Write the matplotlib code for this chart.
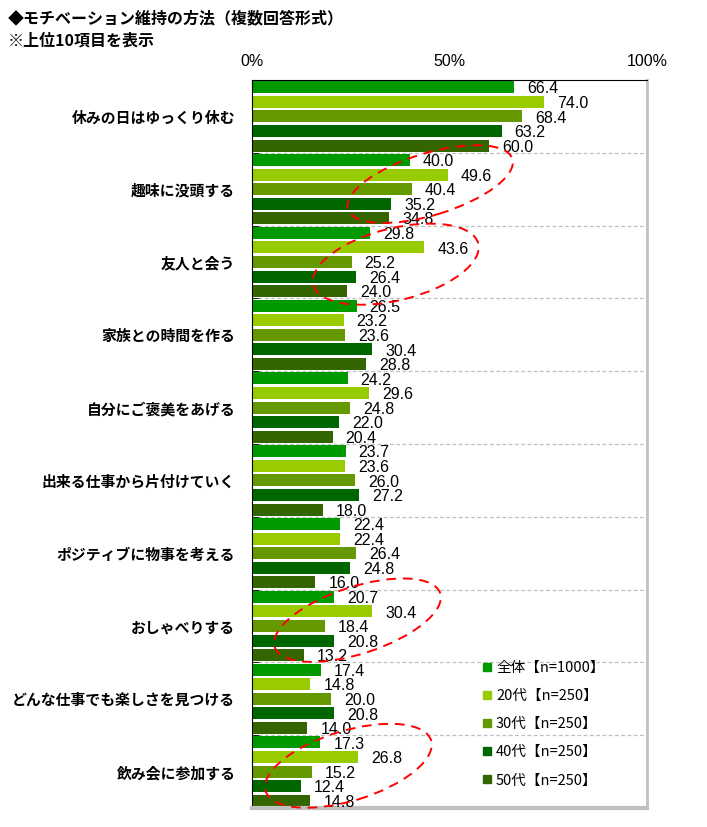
import matplotlib
matplotlib.use("Agg")
import matplotlib.pyplot as plt
import matplotlib.transforms as mtransforms
from matplotlib.patches import Ellipse
from matplotlib.lines import Line2D

plt.rcParams['font.family'] = ['Noto Sans CJK JP', 'DejaVu Sans']

CATEGORIES = ["休みの日はゆっくり休む", "趣味に没頭する", "友人と会う", "家族との時間を作る",
              "自分にご褒美をあげる", "出来る仕事から片付けていく", "ポジティブに物事を考える",
              "おしゃべりする", "どんな仕事でも楽しさを見つける", "飲み会に参加する"]
SERIES = ["全体【n=1000】", "20代【n=250】", "30代【n=250】", "40代【n=250】", "50代【n=250】"]
ALL_AGES = [66.4, 40.0, 29.8, 26.5, 24.2, 23.7, 22.4, 20.7, 17.4, 17.3]
AGE_20S = [74.0, 49.6, 43.6, 23.2, 29.6, 23.6, 22.4, 30.4, 14.8, 26.8]
AGE_30S = [68.4, 40.4, 25.2, 23.6, 24.8, 26.0, 26.4, 18.4, 20.0, 15.2]
AGE_40S = [63.2, 35.2, 26.4, 30.4, 22.0, 27.2, 24.8, 20.8, 20.8, 12.4]
AGE_50S = [60.0, 34.8, 24.0, 28.8, 20.4, 18.0, 16.0, 13.2, 14.0, 14.8]
COLORS = ["#009900", "#99cc00", "#669900", "#006600", "#336600"]
X_TICKS = [0, 50, 100]
X_TICK_LABELS = ["0%", "50%", "100%"]

# red dashed circles: (category index, x value, width px, height px, angle)
HIGHLIGHTS = [(0.93, 45.1, 172, 62, 17),
              (2.03, 36.4, 170, 72, 14),
              (6.92, 26.7, 174, 67, 18),
              (8.92, 24.4, 173, 70, 17)]

values = [ALL_AGES, AGE_20S, AGE_30S, AGE_40S, AGE_50S]

fig = plt.figure(figsize=(7.07, 8.27), dpi=100)
ax = fig.add_axes([252 / 707, 1 - 808 / 827, 395 / 707, 728 / 827])

n = len(CATEGORIES)
slot = 1.0 / len(SERIES)
for k, (vals, col) in enumerate(zip(values, COLORS)):
    ys = [i - 0.5 + (k + 0.5) * slot for i in range(n)]
    ax.barh(ys, vals, height=0.165, color=col, zorder=2)
    for y, v in zip(ys, vals):
        ax.annotate("%.1f" % v, (v, y), xytext=(9.4, -1.2), textcoords="offset points",
                    ha="left", va="center", fontsize=11.5, family=["Liberation Sans"],
                    zorder=4)

ax.set_xlim(0, 100)
ax.set_ylim(n - 0.5, -0.5)

# boundaries between categories
for b in range(1, n):
    ax.axhline(b - 0.5, color="#bfbfbf", lw=0.9, ls=(0, (3, 2)), zorder=1)

ax.set_yticks(range(n))
ax.set_yticklabels(CATEGORIES, fontsize=10.7, fontweight="bold")
ax.set_yticks([b - 0.5 for b in range(1, n)], minor=True)
ax.tick_params(axis="y", which="major", length=0, pad=12)
ax.tick_params(axis="y", which="minor", length=5, direction="in", color="black")

ax.xaxis.tick_top()
ax.set_xticks(X_TICKS)
ax.set_xticklabels(X_TICK_LABELS, fontsize=11.5, family=["Liberation Sans"])
ax.tick_params(axis="x", length=5, direction="in", pad=8, color="black")

ax.spines["left"].set_color("black")
ax.spines["top"].set_color("black")
ax.spines["right"].set_color("#c0c0c0")
ax.spines["right"].set_linewidth(2)
ax.spines["bottom"].set_color("#c0c0c0")
ax.spines["bottom"].set_linewidth(3)

for cy, cx, w, h, ang in HIGHLIGHTS:
    tr = fig.dpi_scale_trans + mtransforms.ScaledTranslation(cx, cy, ax.transData)
    e = Ellipse((0, 0), w / 100, h / 100, angle=ang, transform=tr, fill=False,
                ec="#ff0000", lw=1.4, ls=(0, (5, 3.5)), zorder=5, clip_on=False)
    ax.add_patch(e)

handles = [Line2D([], [], ls="none", marker="s", markersize=5.5, color=c) for c in COLORS]
ax.legend(handles, SERIES, loc="upper left", bbox_to_anchor=(0.57, 0.21), frameon=False,
          fontsize=10.5, handlelength=0.5, handletextpad=0.4, labelspacing=0.97,
          borderaxespad=0)

fig.text(8 / 707, 1 - 18 / 827, "◆モチベーション維持の方法（複数回答形式）", fontsize=11.5,
         fontweight="bold", va="center", ha="left")
fig.text(8 / 707, 1 - 41 / 827, "※上位10項目を表示", fontsize=11.5,
         fontweight="bold", va="center", ha="left")

fig.savefig("out.png", dpi=100)
